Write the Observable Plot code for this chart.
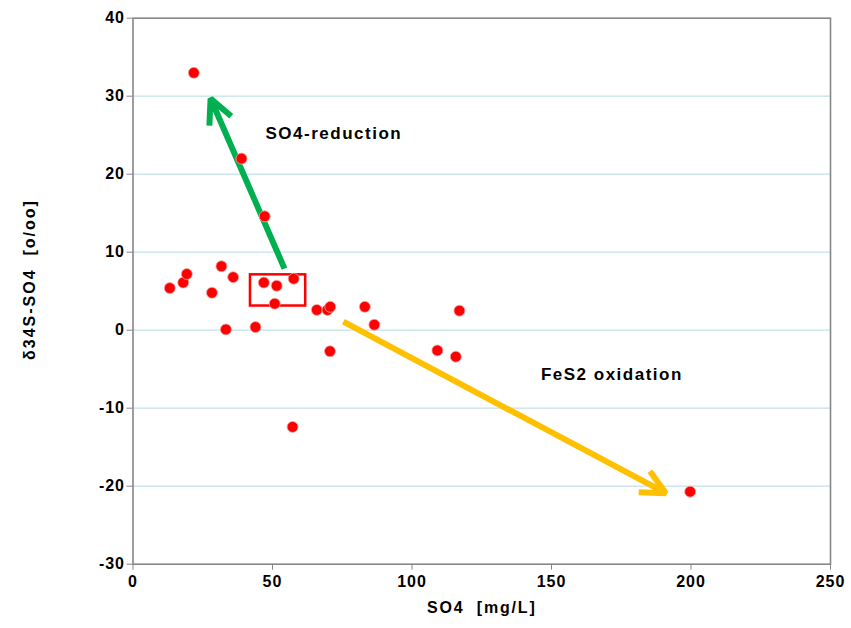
<!DOCTYPE html>
<html>
<head>
<meta charset="utf-8">
<script src="https://cdn.jsdelivr.net/npm/d3@7"></script>
<script src="https://cdn.jsdelivr.net/npm/@observablehq/plot@0.6"></script>
<style>
  body { margin: 0; background: #fff; }
  svg { font-family: "Liberation Sans", Arial, sans-serif; }
</style>
</head>
<body>
<div id="chart"></div>
<script>
// Measured samples
const so4  = [21.8, 38.9, 47.2, 13.2, 18.0, 19.3, 31.7, 35.9, 28.3, 33.3, 43.9, 46.9, 51.5, 57.6, 50.8, 65.9, 69.7, 70.7, 70.6, 83.1, 86.5, 57.2, 109.1, 115.7, 117.0, 199.7];
const d34s = [33.0, 22.0, 14.6, 5.4, 6.1, 7.2, 8.2, 6.8, 4.8, 0.1, 0.4, 6.1, 5.7, 6.6, 3.4, 2.6, 2.6, 3.0, -2.7, 3.0, 0.7, -12.4, -2.6, -3.4, 2.5, -20.7];

// Axis ticks
const xTicks = [0, 50, 100, 150, 200, 250];
const yTicks = [-30, -20, -10, 0, 10, 20, 30, 40];
const gridY = [-20, -10, 0, 10, 20, 30];

// Arrows (process trends) in data coordinates
const arrowNames = ["SO4-reduction", "FeS2 oxidation"];
const arrowX1 = [54.3, 75.4];
const arrowY1 = [7.9, 1.1];
const arrowX2 = [27.8, 191.0];
const arrowY2 = [29.7, -20.9];
const arrowColors = ["#00B050", "#FFC000"];
const labelX = [47.5, 146.2];
const labelY = [25.2, -5.7];

// Highlight box
const boxX = [42.1, 61.9];
const boxY = [3.1, 7.1];

const xTitle = "SO4  [mg/L]";
const yTitle = "δ34S-SO4  [o/oo]";

const points = so4.map((x, i) => ({x, y: d34s[i]}));
const arrows = arrowNames.map((name, i) => ({name, x1: arrowX1[i], y1: arrowY1[i], x2: arrowX2[i], y2: arrowY2[i], color: arrowColors[i], lx: labelX[i], ly: labelY[i]}));
const box = [{x1: boxX[0], x2: boxX[1], y1: boxY[0], y2: boxY[1]}];

const tickFont = {fontSize: 16, fontWeight: "bold", fill: "#000"};

const chart = Plot.plot({
  width: 851,
  height: 628,
  marginLeft: 132.5,
  marginRight: 21,
  marginTop: 17.7,
  marginBottom: 64.3,
  x: {domain: [0, 250]},
  y: {domain: [-30, 40]},
  style: {background: "#fff", color: "#000"},
  marks: [
    Plot.ruleY(gridY, {stroke: "#c3e1ea", strokeWidth: 1.3}),
    Plot.frame({stroke: "#868686", strokeWidth: 1.6}),
    Plot.axisX({ticks: xTicks, tickFormat: () => "", tickSize: 6, stroke: "#868686", label: null}),
    Plot.axisY({ticks: yTicks, tickFormat: () => "", tickSize: 6, stroke: "#868686", label: null}),
    Plot.text(xTicks, {x: (d) => d, text: (d) => String(d), frameAnchor: "bottom", lineAnchor: "top", dy: 11, textAnchor: "middle", ...tickFont}),
    Plot.text(yTicks, {y: (d) => d, text: (d) => String(d), frameAnchor: "left", lineAnchor: "middle", dx: -8, textAnchor: "end", ...tickFont}),
    Plot.text([xTitle], {frameAnchor: "bottom", dy: 44, textAnchor: "middle", lineAnchor: "middle", fontSize: 16, fontWeight: "bold", fill: "#000"}),
    Plot.text([yTitle], {frameAnchor: "left", dx: -103.5, dy: -11.7, rotate: -90, textAnchor: "middle", lineAnchor: "middle", fontSize: 16, fontWeight: "bold", fill: "#000"}),
    Plot.arrow(arrows, {x1: "x1", y1: "y1", x2: "x2", y2: "y2", stroke: "color", strokeWidth: 6, headLength: 6.8, headAngle: 52, strokeLinecap: "butt", strokeLinejoin: "miter"}),
    Plot.text(arrows, {x: "lx", y: "ly", text: "name", textAnchor: "start", lineAnchor: "middle", fontSize: 17, fontWeight: "bold", fill: "#000"}),
    Plot.rect(box, {x1: "x1", x2: "x2", y1: "y1", y2: "y2", fill: "none", stroke: "#FF0000", strokeWidth: 2.5}),
    Plot.dot(points, {x: "x", y: "y", r: 5.5, fill: "#FF0000", stroke: "#f0a8a8", strokeWidth: 0.8})
  ]
});

// letter spacing to mimic the reference's wider bold type
const spacing = new Map([[xTitle, "1.8px"], [yTitle, "2px"], ...arrowNames.map((n) => [n, "1.5px"])]);
const tickStrings = new Set([...xTicks, ...yTicks].map((d) => String(d)));
d3.select(chart).selectAll("text").each(function () {
  const t = this.textContent;
  if (spacing.has(t)) this.style.letterSpacing = spacing.get(t);
  else if (tickStrings.has(t)) this.style.letterSpacing = "1px";
});
document.getElementById("chart").appendChild(chart);
</script>
</body>
</html>
